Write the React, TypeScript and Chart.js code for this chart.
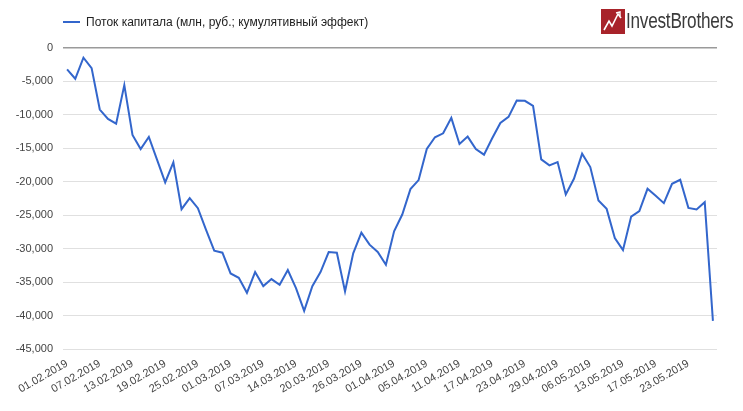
import { useEffect, useRef } from "react";
import { Chart, registerables } from "chart.js";

Chart.register(...registerables);

const dates: string[] = [
  "01.02.2019", "04.02.2019", "05.02.2019", "06.02.2019", "07.02.2019", "08.02.2019", "11.02.2019", "12.02.2019",
  "13.02.2019", "14.02.2019", "15.02.2019", "18.02.2019", "19.02.2019", "20.02.2019", "21.02.2019", "22.02.2019",
  "25.02.2019", "26.02.2019", "27.02.2019", "28.02.2019", "01.03.2019", "04.03.2019", "05.03.2019", "06.03.2019",
  "07.03.2019", "11.03.2019", "12.03.2019", "13.03.2019", "14.03.2019", "15.03.2019", "18.03.2019", "19.03.2019",
  "20.03.2019", "21.03.2019", "22.03.2019", "25.03.2019", "26.03.2019", "27.03.2019", "28.03.2019", "29.03.2019",
  "01.04.2019", "02.04.2019", "03.04.2019", "04.04.2019", "05.04.2019", "08.04.2019", "09.04.2019", "10.04.2019",
  "11.04.2019", "12.04.2019", "15.04.2019", "16.04.2019", "17.04.2019", "18.04.2019", "19.04.2019", "22.04.2019",
  "23.04.2019", "24.04.2019", "25.04.2019", "26.04.2019", "29.04.2019", "30.04.2019", "02.05.2019", "03.05.2019",
  "06.05.2019", "07.05.2019", "08.05.2019", "10.05.2019", "13.05.2019", "14.05.2019", "15.05.2019", "16.05.2019",
  "17.05.2019", "20.05.2019", "21.05.2019", "22.05.2019", "23.05.2019", "24.05.2019", "27.05.2019", "28.05.2019",
];

const capitalFlow: number[] = [
  -3200, -4600, -1450, -3000, -9200, -10600, -11300, -5550,
  -13000, -15100, -13300, -16700, -20100, -17100, -24100, -22450,
  -23950, -27200, -30300, -30600, -33700, -34350, -36600, -33500,
  -35600, -34550, -35400, -33200, -35900, -39300, -35600, -33500,
  -30500, -30600, -36400, -30700, -27600, -29400, -30500, -32400,
  -27400, -24900, -21100, -19750, -15100, -13350, -12750, -10450,
  -14350, -13250, -15100, -15950, -13500, -11200, -10300, -7850,
  -7900, -8650, -16650, -17550, -17050, -21900, -19550, -15800,
  -17800, -22800, -24050, -28400, -30200, -25200, -24400, -21050,
  -22100, -23200, -20300, -19700, -23900, -24150, -23050, -40800,
];

const seriesLabel = "Поток капитала (млн, руб.; кумулятивный эффект)";
const yMin = -45000;
const yMax = 0;
const yStep = 5000;
const labelEvery = 4;

const FONT = 'Arial, "Liberation Sans", sans-serif';

export default function App() {
  const ref = useRef<HTMLCanvasElement>(null);

  useEffect(() => {
    if (!ref.current) return;
    const chart = new Chart(ref.current, {
      type: "line",
      data: {
        labels: dates,
        datasets: [
          {
            label: seriesLabel,
            data: capitalFlow,
            borderColor: "#3366cc",
            backgroundColor: "#3366cc",
            borderWidth: 2,
            pointRadius: 0,
            tension: 0,
            fill: false,
          },
        ],
      },
      options: {
        animation: false,
        responsive: false,
        maintainAspectRatio: false,
        layout: { padding: { top: 48, right: 26, left: 0, bottom: 0 } },
        plugins: { legend: { display: false }, tooltip: { enabled: false } },
        scales: {
          x: {
            offset: true,
            grid: { display: false, drawTicks: false },
            border: { display: false },
            ticks: {
              autoSkip: false,
              maxRotation: 30,
              minRotation: 30,
              padding: 8,
              color: "#444",
              font: { family: FONT, size: 11 },
              callback: (_v: any, i: number) => (i % labelEvery === 0 ? dates[i] : ""),
            },
            afterFit: (s: any) => {
              s.height = 62;
            },
          },
          y: {
            min: yMin,
            max: yMax,
            border: { display: false },
            grid: {
              drawTicks: false,
              color: (ctx: any) => (ctx.tick && ctx.tick.value === 0 ? "#9a9a9a" : "#e0e0e0"),
              lineWidth: (ctx: any) => (ctx.tick && ctx.tick.value === 0 ? 1.5 : 1),
            },
            ticks: {
              stepSize: yStep,
              padding: 10,
              color: "#444",
              font: { family: FONT, size: 11 },
              callback: (v: any) => Number(v).toLocaleString("en-US"),
            },
            afterFit: (s: any) => {
              s.width = 63;
            },
          },
        },
      },
    });
    return () => chart.destroy();
  }, []);

  return (
    <div style={{ position: "fixed", left: 0, top: 0, width: 743, height: 411, background: "#fff", fontFamily: FONT }}>
      <canvas ref={ref} width={743} height={411} style={{ position: "absolute", left: 0, top: 0 }} />
      <div style={{ position: "absolute", left: 63, top: 21, width: 17, height: 2, background: "#3366cc" }} />
      <div style={{ position: "absolute", left: 86, top: 14, fontSize: 12, color: "#222", whiteSpace: "nowrap", lineHeight: "16px" }}>
        {seriesLabel}
      </div>
      <svg style={{ position: "absolute", left: 601, top: 9 }} width={24} height={25} viewBox="0 0 24 25">
        <rect x={0} y={0} width={24} height={25} fill="#a8232a" />
        <polyline points="3,21 8,12 11,17 17,5 20,9" fill="none" stroke="#fff" strokeWidth={1.6} />
        <polyline points="15,4 19,3 19,7" fill="none" stroke="#fff" strokeWidth={1.4} />
      </svg>
      <div
        style={{
          position: "absolute",
          left: 626,
          top: 8,
          fontSize: 22,
          color: "#3b3b3b",
          whiteSpace: "nowrap",
          lineHeight: "26px",
          transform: "scaleX(0.78)",
          transformOrigin: "left top",
          letterSpacing: "-0.3px",
        }}
      >
        InvestBrothers
      </div>
    </div>
  );
}
